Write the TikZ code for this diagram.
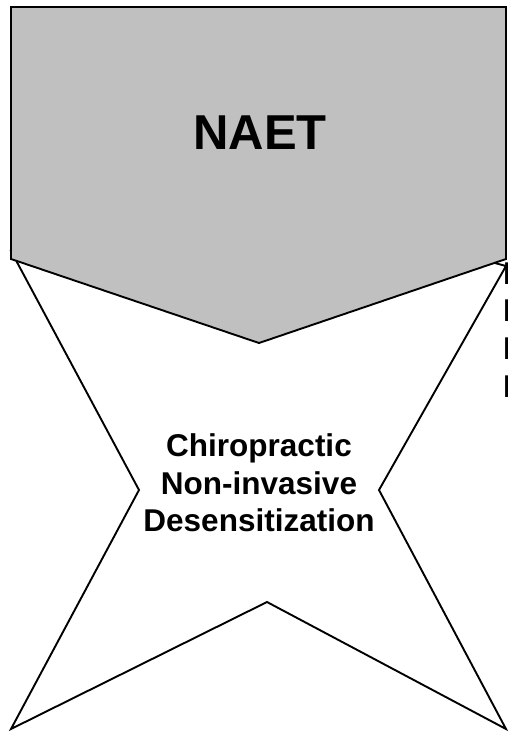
\documentclass[tikz,border=0pt]{standalone}
\usepackage{fontspec}
\setmainfont{Liberation Sans}
\definecolor{naetgray}{HTML}{C0C0C0}
\tikzset{
  outline/.style={draw=black, line width=1.9pt, line join=miter},
  label/.style={font=\bfseries\fontsize{31.5}{37.7}\selectfont, align=center, inner sep=0pt},
}
\begin{document}
\begin{tikzpicture}[x=1pt, y=-1pt]
    \useasboundingbox (0,0) rectangle (508,731);

    % four-pointed star
    \draw[outline, fill=white] (11,251) -- (139,490) -- (11,729) -- (267,602)
        -- (506,729) -- (379,490) -- (506,266) -- (259,200) -- cycle;

    % banner on top
    \draw[outline, fill=naetgray] (11,7) -- (506,7) -- (506,259) -- (259,343)
        -- (11,259) -- cycle;

    \node (naet) [font=\bfseries\fontsize{49}{58}\selectfont, inner sep=0pt] at (260,133) {NAET};
    \node (method) [label] at (259,483) {Chiropractic\\Non-invasive\\Desensitization};

    % text running off the right edge
    \node (side) [label, align=left, anchor=north west] at (503,261)
        {Kinesiology\\Muscle\\Response\\Balance};
  \end{tikzpicture}
\end{document}
